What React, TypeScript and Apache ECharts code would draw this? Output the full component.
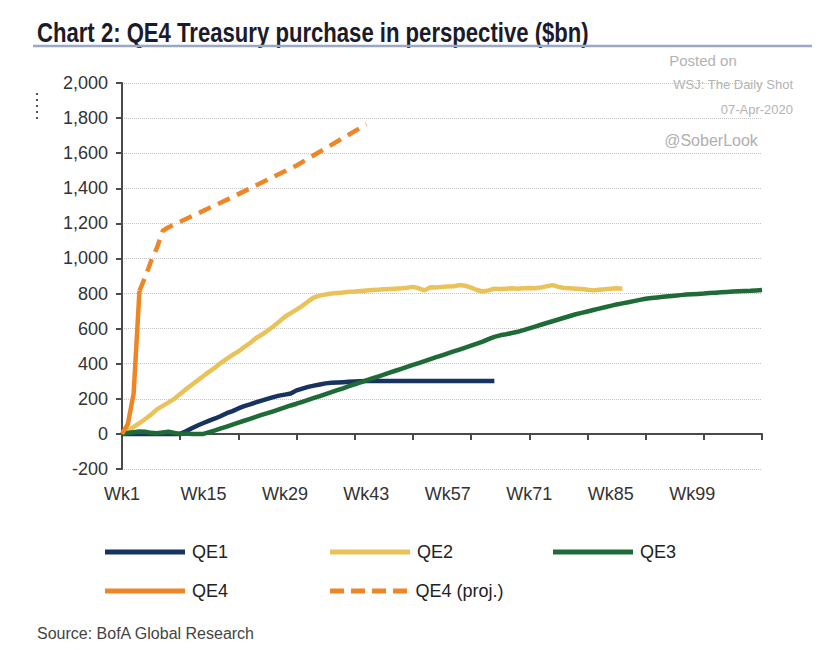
import { useEffect, useRef } from 'react';
import * as echarts from 'echarts';

const FONT = "'Liberation Sans', Arial, sans-serif";

const weeks: string[] = Array.from({ length: 111 }, (_, i) => `Wk${i + 1}`);

const qe1: number[] = [
  0, 0, 0, 0, 0, 0, 0, 0, 0, 0,
  0, 15, 32, 48, 62, 76, 88, 102, 118, 130,
  145, 158, 168, 180, 190, 200, 210, 218, 224, 230,
  248, 258, 268, 275, 282, 288, 291, 293, 295, 297,
  299, 300, 301, 301, 302, 302, 302, 302, 302, 302,
  302, 302, 302, 302, 302, 302, 302, 302, 302, 302,
  302, 302, 302, 302, 302,
];

const qe2: number[] = [
  0, 18, 40, 62, 85, 110, 140, 160, 180, 200,
  228, 255, 280, 305, 330, 355, 378, 405, 428, 450,
  470, 495, 518, 545, 565, 588, 612, 640, 668, 688,
  708, 730, 755, 778, 788, 795, 800, 803, 806, 810,
  812, 815, 818, 820, 822, 824, 826, 828, 830, 833,
  838, 830, 818, 836, 835, 838, 840, 842, 848, 845,
  834, 820, 812, 818, 828, 826, 828, 830, 828, 830,
  832, 830, 834, 842, 848, 838, 832, 830, 828, 826,
  822, 818, 822, 825, 828, 830, 828,
];

const qe3: number[] = [
  0, 5, 10, 14, 12, 6, 4, 8, 12, 6,
  0, 2, 0, 0, 0, 10, 20, 31, 42, 53,
  64, 75, 86, 97, 108, 118, 129, 140, 151, 162,
  172, 183, 194, 205, 216, 227, 238, 249, 260, 272,
  283, 294, 305, 316, 327, 338, 349, 360, 371, 382,
  393, 404, 415, 426, 437, 448, 459, 470, 481, 492,
  503, 514, 526, 540, 553, 562, 568, 575, 582, 592,
  602, 612, 622, 632, 642, 652, 662, 672, 682, 690,
  698, 706, 714, 722, 730, 738, 744, 750, 757, 764,
  770, 774, 778, 782, 785, 788, 791, 794, 796, 798,
  800, 803, 805, 807, 809, 811, 813, 815, 816, 818,
  820,
];

const qe4: number[] = [0, 55, 230, 815];

const qe4ProjWeeks: number[] = [4, 5, 6, 7, 8, 9, 20, 31, 43];
const qe4ProjValues: number[] = [815, 895, 985, 1060, 1158, 1178, 1350, 1530, 1765];

const yTicks = { min: -200, max: 2000, interval: 200 };

const COLORS = {
  QE1: '#17335f',
  QE2: '#e9c35a',
  QE3: '#1f6b37',
  QE4: '#ee8625',
};

function buildProj(): (number | null)[] {
  const maxW = qe4ProjWeeks[qe4ProjWeeks.length - 1];
  const arr: (number | null)[] = new Array(maxW).fill(null);
  qe4ProjWeeks.forEach((w, i) => {
    arr[w - 1] = qe4ProjValues[i];
  });
  return arr;
}

const SOLID_ICON = 'rect';
const DASH_ICON = 'path://M0 0H14V5H0Z M21 0H35V5H21Z M42 0H56V5H42Z M63 0H77V5H63Z';

export default function App() {
  const ref = useRef<HTMLDivElement>(null);
  useEffect(() => {
    const chart = echarts.init(ref.current!, null, { renderer: 'svg' });
    const lineW = 4.5;
    const mkSeries = (name: string, data: (number | null)[], color: string, dashed = false) => ({
      name,
      type: 'line',
      data,
      symbol: 'none',
      connectNulls: true,
      lineStyle: { color, width: lineW, type: dashed ? [13, 8] : 'solid', cap: 'butt' },
      itemStyle: { color },
      emphasis: { disabled: true },
      z: 3,
    });
    const legendPos = [
      { name: 'QE1', left: 105, top: 543, icon: SOLID_ICON },
      { name: 'QE2', left: 330, top: 543, icon: SOLID_ICON },
      { name: 'QE3', left: 553, top: 543, icon: SOLID_ICON },
      { name: 'QE4', left: 105, top: 582, icon: SOLID_ICON },
      { name: 'QE4 (proj.)', left: 330, top: 582, icon: DASH_ICON },
    ];
    const option: any = {
      animation: false,
      backgroundColor: '#ffffff',
      textStyle: { fontFamily: FONT },
      grid: { left: 122, right: 71, top: 83, bottom: 181, containLabel: false },
      xAxis: [
        {
          type: 'category',
          data: weeks,
          boundaryGap: false,
          axisLine: { show: true, onZero: true, lineStyle: { color: '#4a4a4a', width: 2 } },
          axisTick: { show: true, interval: 9, length: 6, lineStyle: { color: '#4a4a4a', width: 2 } },
          axisLabel: { show: false },
          splitLine: { show: false },
        },
        {
          type: 'category',
          data: weeks,
          boundaryGap: false,
          position: 'bottom',
          axisLine: { show: false, onZero: false },
          axisTick: { show: false },
          axisLabel: {
            interval: 13,
            margin: 16,
            fontSize: 18,
            color: '#333',
            fontFamily: FONT,
          },
          splitLine: { show: false },
        },
      ],
      yAxis: {
        type: 'value',
        min: yTicks.min,
        max: yTicks.max,
        interval: yTicks.interval,
        axisLine: { show: true, lineStyle: { color: '#4a4a4a', width: 2 } },
        axisTick: { show: true, length: 6, lineStyle: { color: '#4a4a4a', width: 2 } },
        axisLabel: {
          margin: 14,
          fontSize: 18,
          color: '#333',
          fontFamily: FONT,
          formatter: (v: number) => v.toLocaleString('en-US'),
        },
        splitLine: { show: true, lineStyle: { color: '#c4c4c4', type: 'dotted', width: 1 } },
      },
      legend: legendPos.map((l) => ({
        data: [{ name: l.name, icon: l.icon }],
        left: l.left,
        top: l.top,
        itemWidth: 80,
        itemHeight: 5,
        itemGap: 0,
        padding: 0,
        selectedMode: false,
        textStyle: { fontSize: 18, color: '#222', fontFamily: FONT, padding: [0, 0, 0, 2] },
      })),
      series: [
        mkSeries('QE1', qe1, COLORS.QE1),
        mkSeries('QE2', qe2, COLORS.QE2),
        mkSeries('QE3', qe3, COLORS.QE3),
        mkSeries('QE4', qe4, COLORS.QE4),
        mkSeries('QE4 (proj.)', buildProj(), COLORS.QE4, true),
      ],
      graphic: [
        {
          type: 'text',
          x: 37,
          y: 32,
          scaleX: 0.79,
          style: {
            text: 'Chart 2: QE4 Treasury purchase in perspective ($bn)',
            font: `bold 28px ${FONT}`,
            fill: '#1b1b2b',
            verticalAlign: 'middle',
          },
        },
        {
          type: 'line',
          shape: { x1: 33, y1: 46, x2: 812, y2: 46 },
          style: { stroke: '#9aa8c4', lineWidth: 2.5 },
        },
        {
          type: 'text',
          x: 703,
          y: 60,
          style: { text: 'Posted on', font: `15px ${FONT}`, fill: '#b3b3b3', align: 'center', verticalAlign: 'middle' },
        },
        {
          type: 'text',
          x: 793,
          y: 84,
          style: { text: 'WSJ: The Daily Shot', font: `13px ${FONT}`, fill: '#b3b3b3', align: 'right', verticalAlign: 'middle' },
        },
        {
          type: 'text',
          x: 793,
          y: 109,
          style: { text: '07-Apr-2020', font: `13px ${FONT}`, fill: '#b3b3b3', align: 'right', verticalAlign: 'middle' },
        },
        {
          type: 'text',
          x: 711,
          y: 140,
          style: { text: '@SoberLook', font: `16px ${FONT}`, fill: '#b0b0b0', align: 'center', verticalAlign: 'middle' },
        },
        {
          type: 'line',
          shape: { x1: 37, y1: 93, x2: 37, y2: 121 },
          style: { stroke: '#555', lineWidth: 2, lineDash: [2, 4] },
        },
        {
          type: 'text',
          x: 37,
          y: 633,
          style: { text: 'Source: BofA Global Research', font: `16px ${FONT}`, fill: '#444', verticalAlign: 'middle' },
        },
      ],
    };
    chart.setOption(option);
    return () => chart.dispose();
  }, []);
  return <div ref={ref} style={{ position: 'fixed', left: 0, top: 0, width: 833, height: 650 }} />;
}
